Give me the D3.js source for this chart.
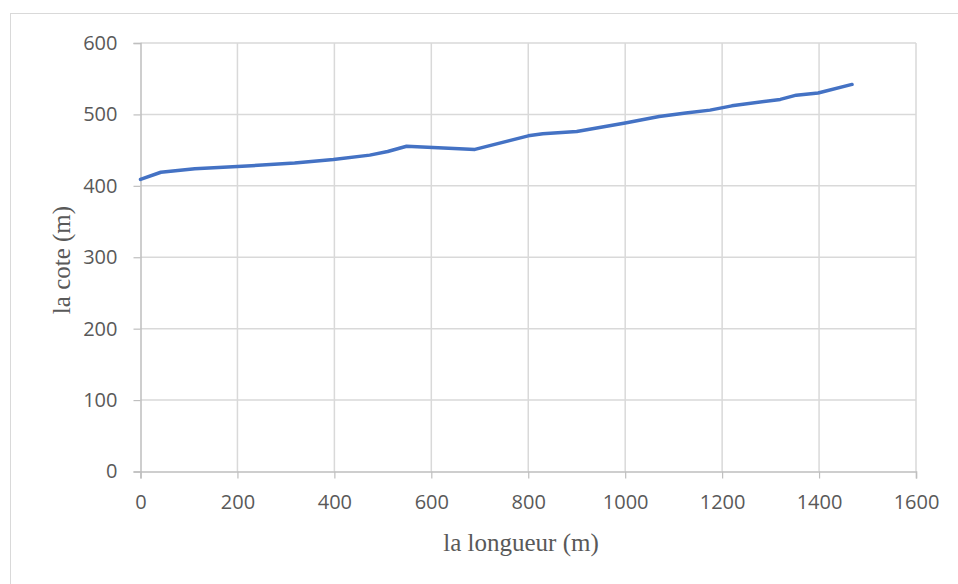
<!DOCTYPE html>
<html>
<head>
<meta charset="utf-8">
<script src="https://cdn.jsdelivr.net/npm/d3@7"></script>
<style>
  html, body { margin: 0; padding: 0; background: #fff; }
  svg { display: block; }
</style>
</head>
<body>
<svg id="chart" width="958" height="584"></svg>
<script>
// Longitudinal profile: distance along the route (m) vs elevation (m)
const longueur = [0, 42, 112, 200, 318, 398, 473, 510, 549, 690, 800, 830, 900, 1000, 1070, 1125, 1175, 1220, 1320, 1353, 1398, 1468];
const cote     = [409, 419, 424, 427, 432, 437, 443, 448, 455.5, 451, 470, 473, 476, 488, 497, 502, 506, 512, 521, 527, 530, 542];
const xTicks = [0, 200, 400, 600, 800, 1000, 1200, 1400, 1600];
const yTicks = [0, 100, 200, 300, 400, 500, 600];

const svg = d3.select("#chart");
const W = 958, H = 584;
const plot = { left: 140.5, right: 916, top: 43, bottom: 471.5 };

// chart frame
svg.append("rect")
  .attr("x", 10.5).attr("y", 13.5)
  .attr("width", W + 10).attr("height", H + 10)
  .attr("fill", "#fff").attr("stroke", "#d9d9d9").attr("stroke-width", 1);

const x = d3.scaleLinear().domain([0, 1600]).range([plot.left, plot.right]);
const y = d3.scaleLinear().domain([0, 600]).range([plot.bottom, plot.top]);

const tickFont = "'Open Sans', 'Liberation Sans', sans-serif";
const fmt = d3.format("d");

// horizontal gridlines
svg.append("g")
  .selectAll("line").data(yTicks.filter(d => d > 0)).join("line")
  .attr("x1", plot.left).attr("x2", plot.right)
  .attr("y1", d => y(d)).attr("y2", d => y(d))
  .attr("stroke", "#d9d9d9").attr("stroke-width", 1.5);

// vertical gridlines
svg.append("g")
  .selectAll("line").data(xTicks.filter(d => d > 0)).join("line")
  .attr("x1", d => x(d)).attr("x2", d => x(d))
  .attr("y1", plot.top).attr("y2", plot.bottom)
  .attr("stroke", "#d9d9d9").attr("stroke-width", 1.5);

// y axis
const yAxis = svg.append("g")
  .attr("transform", `translate(${plot.left},0)`)
  .call(d3.axisLeft(y).tickValues(yTicks).tickFormat(fmt).tickSize(7).tickPadding(16));
yAxis.select(".domain").attr("stroke", "#bfbfbf").attr("stroke-width", 1.5);
yAxis.selectAll(".tick line").attr("stroke", "#bfbfbf").attr("stroke-width", 1.2);
yAxis.selectAll(".tick text")
  .attr("fill", "#595959").style("font-family", tickFont).style("font-size", "20px");

// x axis
const xAxis = svg.append("g")
  .attr("transform", `translate(0,${plot.bottom})`)
  .call(d3.axisBottom(x).tickValues(xTicks).tickFormat(fmt).tickSize(7).tickPadding(16));
xAxis.select(".domain").attr("stroke", "#bfbfbf").attr("stroke-width", 1.5);
xAxis.selectAll(".tick line").attr("stroke", "#bfbfbf").attr("stroke-width", 1.2);
xAxis.selectAll(".tick text")
  .attr("fill", "#595959").style("font-family", tickFont).style("font-size", "20px");

// profile line
const line = d3.line().x((d, i) => x(longueur[i])).y(d => y(d));
svg.append("path")
  .datum(cote)
  .attr("d", line)
  .attr("fill", "none")
  .attr("stroke", "#4472c4")
  .attr("stroke-width", 3.5)
  .attr("stroke-linejoin", "round")
  .attr("stroke-linecap", "round");

// axis titles
svg.append("text")
  .attr("x", 521).attr("y", 551)
  .attr("text-anchor", "middle")
  .attr("fill", "#595959")
  .style("font-family", "'Liberation Serif', serif").style("font-size", "25px")
  .text("la longueur (m)");

svg.append("text")
  .attr("transform", "translate(70,260) rotate(-90)")
  .attr("text-anchor", "middle")
  .attr("fill", "#595959")
  .style("font-family", "'Liberation Serif', serif").style("font-size", "25px")
  .text("la cote (m)");
</script>
</body>
</html>
